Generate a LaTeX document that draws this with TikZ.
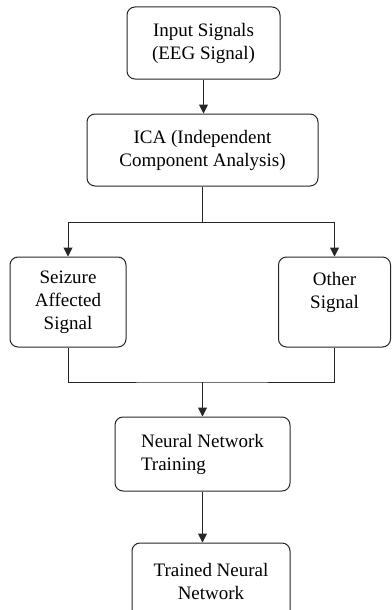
\documentclass[tikz,border=0pt]{standalone}
\usepackage{fontspec}
\setmainfont{Liberation Serif}
\usetikzlibrary{arrows.meta}
\begin{document}
\begin{tikzpicture}[x=1pt, y=-1pt,
		box/.style={draw=black!85, line width=1pt, rounded corners=8pt, inner sep=0pt, align=center, font=\fontsize{19}{23}\selectfont},
		flow/.style={draw=black!85, line width=1pt},
		arr/.style={flow, -{Triangle[length=9pt,width=9pt]}}]
				\clip (0,0) rectangle (391,610);

				% Input and ICA
				\node[box, minimum width=153pt, minimum height=72pt] (input) at (203.5,43) {Input Signals\\(EEG Signal)};
				\node[box, minimum width=231pt, minimum height=72pt] (ica) at (202.5,150) {ICA (Independent\\Component Analysis)};
				\draw[arr] (input.south) -- (input.south |- ica.north);

				% Split
				\node[box, minimum width=116pt, minimum height=90pt] (seizure) at (68,302) {Seizure\\Affected\\Signal};
				\node[box, minimum width=112pt, minimum height=90pt] (other) at (334.5,302) {Other\\Signal\\\mbox{}};
				\draw[flow] (ica.south) -- ++(0,36) coordinate (split);
				\draw[arr] (split) -| (seizure.north);
				\draw[arr] (split) -| (other.north);

				% Training
				\node[box, align=left, minimum width=175pt, minimum height=74pt] (training) at (202.5,454) {Neural Network\\Training};
				\coordinate (join) at (202.5,382);
				\draw[flow] (seizure.south) |- (join) -| (other.south);
				\draw[arr] (join) -- (training.north);

				% Result
				\node[box, minimum width=158pt, minimum height=76pt] (trained) at (211,581) {Trained Neural\\Network};
				\draw[arr] (training.south) -- (training.south |- trained.north);
			\end{tikzpicture}
\end{document}
